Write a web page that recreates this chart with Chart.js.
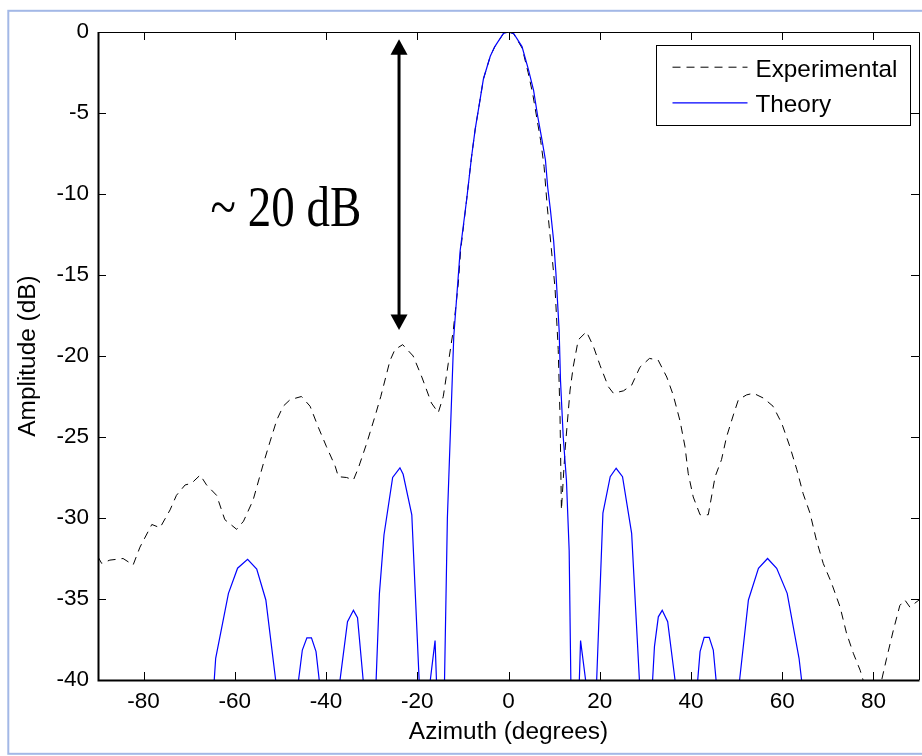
<!DOCTYPE html>
<html><head><meta charset="utf-8">
<script src="https://cdn.jsdelivr.net/npm/chart.js@4.4.1/dist/chart.umd.min.js"></script>
<style>html,body{margin:0;padding:0;background:#fff;}canvas{display:block;}</style>
</head><body>
<canvas id="c" width="922" height="756"></canvas>
<script>
// ---- data ----
const seriesLabels = ['Experimental', 'Theory'];

const theoryAz = [-90,-78,-66.4,-64.2,-61.4,-59.4,-57.2,-55.2,-53.2,-50.4,-48.6,-47.2,-45.2,-44.2,-43.2,-42.2,-40.2,-38.6,-37.3,-35.3,-34.0,-33.1,-31.0,-30.1,-29.3,-28.3,-27.3,-25.4,-23.8,-23.1,-21.2,-19.2,-18.0,-16.1,-15.3,-14.4,-13.4,-12.0,-10.6,-9.2,-8.1,-7.3,-6.25,-5.5,-4.0,-3.0,-1.1,0,1.1,2.96,4.4,5.5,6.4,7.35,8.1,8.6,9.2,9.9,10.4,11.1,11.4,12.0,12.7,13.3,13.9,14.6,15.2,15.8,17.4,18.3,19.0,20.7,22.3,23.6,25.0,27.0,29.0,30.3,31.2,32.0,32.85,33.7,34.9,37.0,39.0,40.9,42.0,42.9,44.0,44.9,46.2,48.2,50.2,52.6,54.8,56.8,58.8,61.1,63.7,65.5,67,78,90];
const theoryDb = [-55,-50,-48,-38.66,-34.65,-33.1,-32.55,-33.15,-35.06,-41.5,-55,-42.6,-38.15,-37.4,-37.4,-38.25,-43.25,-55,-40.8,-36.4,-35.7,-36.15,-42.7,-55,-42.05,-34.65,-31.05,-27.5,-26.9,-27.3,-29.8,-42.5,-42,-37.57,-44,-46,-30,-18.8,-13.5,-10.4,-7.7,-6.0,-4.2,-2.9,-1.5,-0.9,-0.08,0,-0.08,-0.9,-2.35,-3.6,-5.2,-6.67,-7.9,-9.6,-11.0,-12.9,-14.9,-18.4,-21.5,-25.0,-27.65,-32,-45,-55,-43,-37.57,-41.1,-55,-42.5,-29.7,-27.45,-26.93,-27.45,-30.95,-41.6,-55,-42,-37.94,-36.1,-35.7,-36.4,-41.1,-55,-42,-38.25,-37.37,-37.37,-38.15,-42.1,-55,-41.2,-35.06,-33.1,-32.5,-33.1,-34.65,-38.66,-43,-50,-52,-55];

const expAz = [-90,-89.2,-87.4,-84.5,-82.3,-80.8,-78.2,-76.4,-74.2,-72.8,-70.9,-69.5,-67.6,-66.2,-64.0,-62.2,-59.6,-58.1,-56.0,-53.7,-52.3,-50.8,-49.4,-47.9,-45.4,-43.5,-41.7,-39.9,-38.0,-37.3,-35.5,-34.0,-32.9,-31.1,-29.3,-28.0,-26.0,-24.9,-23.2,-20.9,-19.0,-16.9,-15.4,-14.3,-13.2,-12.1,-11.0,-10.5,-9.2,-8.1,-7.3,-6.25,-5.5,-4.0,-3.0,-1.1,0,1.1,3.0,4.3,5.3,6.2,7.05,7.8,8.5,9.4,10.2,10.9,11.3,11.6,12.4,13.5,14.2,15.3,17.1,18.6,20.1,21.9,23.0,25.2,27.0,28.8,30.9,32.8,34.7,36.1,37.6,38.7,39.4,40.5,42.0,43.8,45.3,46.7,47.8,49.3,50.4,52.2,53.7,55.9,58.0,59.9,61.7,63.2,64.6,66.1,67.5,69.0,70.8,72.7,74.1,75.6,77.1,78.8,80.6,82.9,84.4,85.8,86.9,88.0,90];
const expDb = [-32.4,-32.8,-32.6,-32.5,-32.9,-31.8,-30.4,-30.6,-29.5,-28.6,-27.96,-27.86,-27.35,-27.96,-28.6,-30.1,-30.7,-30.2,-28.9,-26.6,-25.3,-23.95,-23.1,-22.7,-22.5,-23.1,-24.4,-25.6,-26.8,-27.45,-27.5,-27.65,-26.9,-25.4,-23.75,-22.5,-20.3,-19.6,-19.3,-20.0,-21.3,-22.9,-23.5,-22.5,-20.45,-18.4,-15.5,-13.5,-10.4,-7.7,-6.0,-4.2,-2.9,-1.5,-0.9,-0.1,0,-0.1,-1.0,-2.5,-3.8,-5.3,-6.7,-8.3,-10.8,-13.4,-15.8,-19.6,-23.75,-29.5,-25.8,-22.1,-20.65,-19.0,-18.5,-19.4,-20.6,-21.9,-22.3,-22.15,-21.8,-20.7,-20.15,-20.25,-21.3,-22.4,-24.0,-25.6,-27.25,-28.7,-29.8,-29.8,-27.45,-26.4,-25.0,-23.64,-22.7,-22.4,-22.3,-22.6,-23.1,-24.15,-25.6,-27.0,-28.5,-29.7,-31.36,-32.8,-34.0,-35.5,-37.1,-38.35,-39.4,-41.0,-41.5,-38.66,-36.9,-35.4,-35.06,-35.5,-35.06];

const xTickValues = [-80,-60,-40,-20,0,20,40,60,80];
const xTickLabels = ['-80','-60','-40','-20','0','20','40','60','80'];
const yTickValues = [-40,-35,-30,-25,-20,-15,-10,-5,0];
const yTickLabels = ['-40','-35','-30','-25','-20','-15','-10','-5','0'];

const xTitle = 'Azimuth (degrees)';
const yTitle = 'Amplitude (dB)';

// annotation (data coordinates)
const noteText = '~ 20 dB';
const noteAz = -48.8, noteDb = -11.96;
const arrowAz = -24.0, arrowTopDb = -0.45, arrowBottomDb = -18.4;

// ---- rendering ----
const SANS = '"Liberation Sans", Arial, Helvetica, sans-serif';
Chart.defaults.color = '#000';

const toPts = (xs, ys) => xs.map((x, i) => ({x: x, y: ys[i]}));

const matlabPlugin = {
  id: 'matlabLook',
  beforeDraw(chart) {
    const ctx = chart.ctx;
    ctx.save();
    ctx.fillStyle = '#fff';
    ctx.fillRect(0, 0, chart.width, chart.height);
    ctx.strokeStyle = '#a3b8e6';
    ctx.lineWidth = 2;
    ctx.strokeRect(8.3, 10.8, 1000, 743);
    ctx.restore();
  },
  afterDraw(chart) {
    const ctx = chart.ctx;
    const ca = chart.chartArea;
    const xs = chart.scales.x, ys = chart.scales.y;
    ctx.save();
    // axes box
    ctx.strokeStyle = '#000';
    ctx.lineWidth = 2;
    ctx.beginPath();
    ctx.moveTo(ca.left + 0.5, ca.top);
    ctx.lineTo(ca.left + 0.5, ca.bottom + 0.5);
    ctx.lineTo(ca.right + 0.5, ca.bottom + 0.5);
    ctx.stroke();
    ctx.lineWidth = 1;
    ctx.beginPath();
    ctx.moveTo(ca.left, ca.top + 0.5);
    ctx.lineTo(ca.right + 0.5, ca.top + 0.5);
    ctx.lineTo(ca.right + 0.5, ca.bottom);
    ctx.stroke();
    // inward ticks
    const TL = 8;
    ctx.beginPath();
    xs.ticks.forEach(t => {
      const px = Math.round(xs.getPixelForValue(t.value)) + 0.5;
      ctx.moveTo(px, ca.bottom); ctx.lineTo(px, ca.bottom - TL);
      ctx.moveTo(px, ca.top); ctx.lineTo(px, ca.top + TL);
    });
    ys.ticks.forEach(t => {
      const py = Math.round(ys.getPixelForValue(t.value)) + 0.5;
      ctx.moveTo(ca.left, py); ctx.lineTo(ca.left + TL, py);
      ctx.moveTo(ca.right, py); ctx.lineTo(ca.right - TL, py);
    });
    ctx.stroke();

    // legend box (top right, inside axes)
    const LW = 254, LH = 80;
    const lx = Math.round(ca.right - 9 - LW) + 0.5, ly = Math.round(ca.top + 13) + 0.5;
    ctx.fillStyle = '#fff';
    ctx.fillRect(lx, ly, LW, LH);
    ctx.strokeStyle = '#000';
    ctx.lineWidth = 1;
    ctx.strokeRect(lx, ly, LW, LH);
    const rows = [{line: 21.7, base: 31}, {line: 57.3, base: 66.5}];
    chart.data.datasets.forEach((ds, i) => {
      const r = rows[i];
      ctx.save();
      ctx.strokeStyle = ds.borderColor;
      ctx.lineWidth = ds.borderWidth;
      ctx.setLineDash(ds.borderDash || []);
      ctx.beginPath();
      ctx.moveTo(lx + 16, ly + r.line);
      ctx.lineTo(lx + 91, ly + r.line);
      ctx.stroke();
      ctx.restore();
      ctx.fillStyle = '#000';
      ctx.font = '24.3px ' + SANS;
      ctx.textAlign = 'left';
      ctx.textBaseline = 'alphabetic';
      ctx.fillText(ds.label, lx + 99, ly + r.base);
    });

    // double-headed arrow
    const ax = xs.getPixelForValue(arrowAz);
    const aTop = ys.getPixelForValue(arrowTopDb);
    const aBot = ys.getPixelForValue(arrowBottomDb);
    const HW = 8.5, HH = 15.5;
    ctx.strokeStyle = '#000';
    ctx.fillStyle = '#000';
    ctx.lineWidth = 3;
    ctx.beginPath();
    ctx.moveTo(ax, aTop + HH - 1);
    ctx.lineTo(ax, aBot - HH + 1);
    ctx.stroke();
    ctx.beginPath();
    ctx.moveTo(ax, aTop); ctx.lineTo(ax - HW, aTop + HH); ctx.lineTo(ax + HW, aTop + HH); ctx.closePath();
    ctx.fill();
    ctx.beginPath();
    ctx.moveTo(ax, aBot); ctx.lineTo(ax - HW, aBot - HH); ctx.lineTo(ax + HW, aBot - HH); ctx.closePath();
    ctx.fill();

    // annotation text (serif, horizontally condensed as in the reference)
    const tx = xs.getPixelForValue(noteAz), ty = ys.getPixelForValue(noteDb);
    ctx.font = '58px "Liberation Serif", "Times New Roman", serif';
    ctx.textAlign = 'center';
    ctx.textBaseline = 'alphabetic';
    ctx.translate(tx, ty);
    ctx.scale(0.81, 1);
    ctx.fillText(noteText, 0, 0);
    ctx.restore();
  }
};

new Chart(document.getElementById('c'), {
  type: 'line',
  data: {
    datasets: [
      {
        label: seriesLabels[0],
        data: toPts(expAz, expDb),
        borderColor: '#000',
        borderWidth: 1,
        borderDash: [8, 6],
        pointRadius: 0,
        tension: 0,
        fill: false,
        order: 1
      },
      {
        label: seriesLabels[1],
        data: toPts(theoryAz, theoryDb),
        borderColor: '#0000ff',
        borderWidth: 1.2,
        pointRadius: 0,
        tension: 0,
        fill: false,
        order: 0
      }
    ]
  },
  options: {
    responsive: false,
    animation: false,
    devicePixelRatio: 1,
    layout: {padding: {left: 0, top: 32, right: 3, bottom: 0}},
    plugins: {legend: {display: false}, tooltip: {enabled: false}},
    scales: {
      x: {
        type: 'linear',
        position: 'bottom',
        min: -90, max: 90,
        afterBuildTicks: s => { s.ticks = xTickValues.map(v => ({value: v})); },
        afterFit: s => { s.height = 76; },
        grid: {display: false, drawTicks: false},
        border: {display: false},
        ticks: {
          padding: 8,
          maxRotation: 0,
          autoSkip: false,
          font: {family: SANS, size: 22.5},
          color: '#000',
          callback: (v) => xTickLabels[xTickValues.indexOf(v)]
        },
        title: {display: true, text: xTitle, color: '#000',
               font: {family: SANS, size: 24.4}, padding: {top: 0, bottom: 9}}
      },
      y: {
        type: 'linear',
        position: 'left',
        min: -40, max: 0,
        afterBuildTicks: s => { s.ticks = yTickValues.map(v => ({value: v})); },
        afterFit: s => { s.width = 98; },
        grid: {display: false, drawTicks: false},
        border: {display: false},
        ticks: {
          padding: 9,
          autoSkip: false,
          font: {family: SANS, size: 22.5},
          color: '#000',
          callback: (v) => yTickLabels[yTickValues.indexOf(v)]
        },
        title: {display: true, text: yTitle, color: '#000',
               font: {family: SANS, size: 24.4}, padding: {top: 14, bottom: 0}}
      }
    }
  },
  plugins: [matlabPlugin]
});
</script>
</body></html>
